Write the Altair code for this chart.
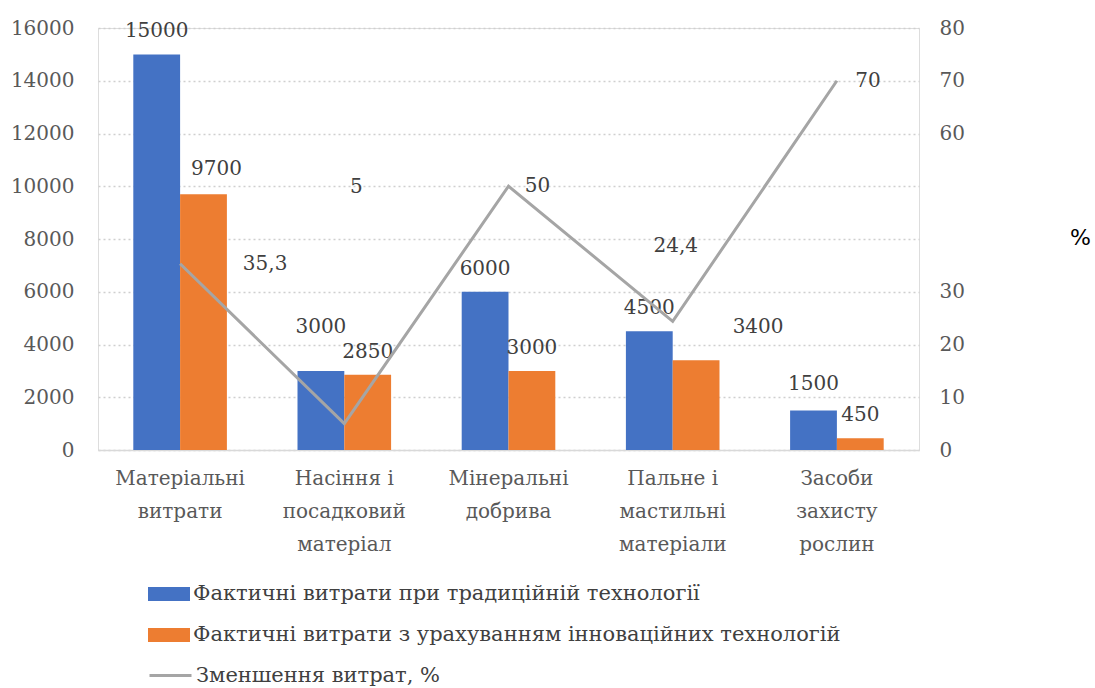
import altair as alt
import pandas as pd

categories = [
    "Матеріальні\nвитрати",
    "Насіння і\nпосадковий\nматеріал",
    "Мінеральні\nдобрива",
    "Пальне і\nмастильні\nматеріали",
    "Засоби\nзахисту\nрослин",
]
series_names = [
    "Фактичні витрати при традиційній технології",
    "Фактичні витрати з урахуванням інноваційних технологій",
]
line_name = "Зменшення витрат, %"
traditional = [15000, 3000, 6000, 4500, 1500]
innovative = [9700, 2850, 3000, 3400, 450]
reduction = [35.3, 5, 50, 24.4, 70]
reduction_labels = ["35,3", "5", "50", "24,4", "70"]
left_ticks = [0, 2000, 4000, 6000, 8000, 10000, 12000, 14000, 16000]
right_ticks = [0, 10, 20, 30, 60, 70, 80]

SERIF = "DejaVu Serif"
TXT = "#404040"
AXC = "#595959"
FS = 20
LFS = 21

rows = []
for i, c in enumerate(categories):
    rows.append({"cat": c, "series": series_names[0], "value": traditional[i], "key": f"{i}-0"})
    rows.append({"cat": c, "series": series_names[1], "value": innovative[i], "key": f"{i}-1"})
bars_df = pd.DataFrame(rows)

line_df = pd.DataFrame({
    "cat": categories,
    "pct": reduction,
    "label": reduction_labels,
    "name": [line_name] * len(categories),
    "i": list(range(len(categories))),
})

x_enc = alt.X(
    "cat:N", sort=categories,
    scale=alt.Scale(paddingInner=0.43, paddingOuter=0.215),
    axis=alt.Axis(title=None, labelAngle=0, labelExpr="split(datum.label, '\\n')",
                  labelFont=SERIF, labelFontSize=FS, labelColor=AXC, labelLineHeight=33,
                  labelPadding=18, ticks=False, domainColor="#d9d9d9", domainWidth=1.5,
                  grid=False),
)
xo_enc = alt.XOffset("series:N", sort=series_names, scale=alt.Scale(paddingInner=0))
y_left = alt.Y(
    "value:Q", scale=alt.Scale(domain=[0, 16000], nice=False),
    axis=alt.Axis(values=left_ticks, format="d", title=None, labelFont=SERIF, labelFontSize=FS,
                  labelColor=AXC, labelPadding=24, grid=True, gridDash=[2, 3],
                  gridColor="#cfcfcf", gridWidth=1.5, domain=False, ticks=False),
)
y_right = alt.Y(
    "pct:Q", scale=alt.Scale(domain=[0, 80], nice=False),
    axis=alt.Axis(orient="right", values=right_ticks, title="%", titleAngle=0,
                  titleFont="DejaVu Sans", titleFontSize=22, titleFontWeight="normal",
                  titleColor="#000000", titleX=161, titleY=209, titleAlign="center",
                  titleBaseline="middle", labelFont=SERIF, labelFontSize=FS,
                  labelColor=AXC, labelPadding=20, grid=False, domain=False, ticks=False),
)

base = alt.Chart(bars_df)
bars = base.mark_bar().encode(
    x=x_enc, xOffset=xo_enc, y=y_left,
    color=alt.Color("series:N", sort=series_names,
                    scale=alt.Scale(domain=series_names, range=["#4472C4", "#ED7D31"]),
                    legend=alt.Legend(orient="none", legendX=50, legendY=545, direction="vertical",
                                      title=None, symbolType="M-1,-0.33H1V0.33H-1Z",
                                      symbolSize=1764, symbolStrokeWidth=0, symbolOpacity=1,
                                      labelFont=SERIF, labelFontSize=LFS, labelColor=TXT,
                                      labelLimit=0, labelOffset=3, rowPadding=10, padding=0)),
)

exceptions = {"0-1": (13, -25), "1-0": (0, -44), "3-1": (62, -33), "4-0": (0, -26)}
default_keys = [k for k in bars_df["key"] if k not in exceptions]
bar_labels = [
    base.transform_filter(alt.FieldOneOfPredicate(field="key", oneOf=default_keys))
    .mark_text(baseline="middle", dy=-23, font=SERIF, fontSize=FS, color=TXT)
    .encode(x=x_enc, xOffset=xo_enc, y=y_left, text=alt.Text("value:Q", format="d"))
]
for k, (dx, dy) in exceptions.items():
    bar_labels.append(
        base.transform_filter(alt.FieldEqualPredicate(field="key", equal=k))
        .mark_text(baseline="middle", dx=dx, dy=dy, font=SERIF, fontSize=FS, color=TXT)
        .encode(x=x_enc, xOffset=xo_enc, y=y_left, text=alt.Text("value:Q", format="d"))
    )

lbase = alt.Chart(line_df)
line = lbase.mark_line(strokeWidth=3).encode(
    x=x_enc, y=y_right,
    stroke=alt.Stroke("name:N", scale=alt.Scale(domain=[line_name], range=["#A5A5A5"]),
                      legend=alt.Legend(orient="none", legendX=50, legendY=625, title=None,
                                        symbolType="stroke", symbolSize=1764,
                                        symbolStrokeWidth=3, labelFont=SERIF, labelFontSize=LFS,
                                        labelColor=TXT, labelLimit=0, labelOffset=3, padding=0)),
)
line_offsets = [(85, 0), (12, -237), (29, 0), (3, -75), (31, 0)]
line_labels = []
for i, (dx, dy) in enumerate(line_offsets):
    line_labels.append(
        lbase.transform_filter(alt.FieldEqualPredicate(field="i", equal=i))
        .mark_text(baseline="middle", dx=dx, dy=dy, font=SERIF, fontSize=FS, color=TXT)
        .encode(x=x_enc, y=y_right, text="label:N")
    )

left = alt.layer(bars, *bar_labels)
right = alt.layer(line, *line_labels)
chart = alt.layer(left, right).resolve_scale(y="independent", color="independent").properties(
    width=821, height=422,
    padding={"left": 98, "top": 28, "right": 176, "bottom": 238},
    autosize=alt.AutoSizeParams(type="none"),
).configure_view(stroke=None).configure(background="white")

chart.save("out.html", embed_options={"renderer": "svg", "actions": False})
